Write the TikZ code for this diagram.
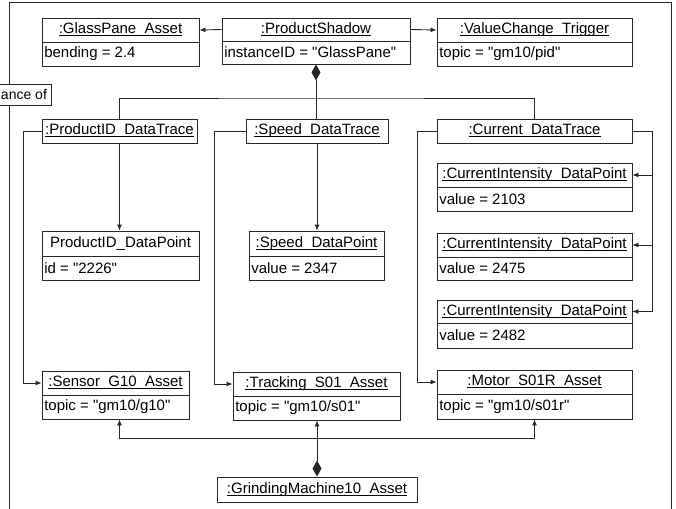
\documentclass[tikz,border=0pt]{standalone}
\usepackage{fontspec}
\setmainfont[Ligatures=TeXOff]{Liberation Sans}
\usetikzlibrary{arrows.meta}
\newcommand\myul[1]{\setbox0\hbox{#1}\rlap{\rule[-2.4pt]{\wd0}{1.1pt}}\box0}
\tikzset{
  ln/.style={line width=0.9pt, draw=black!85},
  hdr/.style={ln, draw, fill=white, inner sep=0pt, font=\fontsize{15}{18}\selectfont},
  attrbox/.style={ln, draw, fill=white, inner sep=0pt},
  attrtext/.style={anchor=west, inner sep=0pt, xshift=2.5pt, font=\fontsize{15}{18}\selectfont},
  conn/.style={ln},
  arr/.style={ln, -{Latex[length=6pt,width=5pt]}},
  comp/.style={ln, {Diamond[length=16pt,width=9pt]}-},
  comparr/.style={ln, {Diamond[length=16pt,width=9pt]}-{Latex[length=6pt,width=5pt]}},
}
% name, x1, x2, y1, ysep, y2, header, attribute
\newcommand\umlobj[8]{%
  \node[hdr, minimum width={#3-#2}, minimum height={#5-#4}] (#1) at ({(#2+#3)/2},{(#4+#5)/2}) {#7};
  \node[attrbox, minimum width={#3-#2}, minimum height={#6-#5}] (#1A) at ({(#2+#3)/2},{(#5+#6)/2}) {};
  \node[attrtext] (#1T) at (#1A.west) {#8};
}
% name, x1, x2, y1, y2, header
\newcommand\umlsingle[6]{%
  \node[hdr, minimum width={#3-#2}, minimum height={#5-#4}] (#1) at ({(#2+#3)/2},{(#4+#5)/2}) {#6};
}
\begin{document}
\begin{tikzpicture}[x=1pt,y=-1pt]
\useasboundingbox (0,0) rectangle (676,508);
% outer frame
\draw[ln] (9.5,515) -- (9.5,2.7) -- (671,2.7) -- (671,515);
\draw[ln, fill=white] (-5,84) rectangle (51,105);
\node[anchor=west, inner sep=0pt, font=\fontsize{14}{17}\selectfont] (inst) at (0.8,94.5) {ance of};

% objects
\umlobj{gp}{42}{199}{18}{42}{66}{\myul{:GlassPane\_Asset}}{bending = 2.4}
\umlobj{ps}{222}{410}{18}{41}{64}{\myul{:ProductShadow}}{instanceID = "GlassPane"}
\umlobj{vc}{437}{632}{18}{42}{66}{\myul{:ValueChange\_Trigger}}{topic = "gm10/pid"}

\umlsingle{pid}{42}{197}{119}{143}{\myul{:ProductID\_DataTrace}}
\umlsingle{spd}{246}{388}{119}{143}{\myul{:Speed\_DataTrace}}
\umlsingle{cur}{437}{632}{119}{143}{\myul{:Current\_DataTrace}}

\umlobj{pidp}{42}{199}{231}{256}{280}{ProductID\_DataPoint}{id = "2226"}
\umlobj{spdp}{249}{384}{231}{256}{280}{\myul{:Speed\_DataPoint}}{value = 2347}

\umlobj{ciA}{437}{632}{163}{187}{211}{\myul{:CurrentIntensity\_DataPoint}}{value = 2103}
\umlobj{ciB}{437}{632}{233}{257}{280}{\myul{:CurrentIntensity\_DataPoint}}{value = 2475}
\umlobj{ciC}{437}{632}{300}{323}{348}{\myul{:CurrentIntensity\_DataPoint}}{value = 2482}

\umlobj{sen}{42}{189}{371}{395}{419}{\myul{:Sensor\_G10\_Asset}}{topic = "gm10/g10"}
\umlobj{trk}{233}{400}{372}{396}{420}{\myul{:Tracking\_S01\_Asset}}{topic = "gm10/s01"}
\umlobj{mot}{437}{632}{370}{394}{419}{\myul{:Motor\_S01R\_Asset}}{topic = "gm10/s01r"}

\umlsingle{gm}{217}{417}{477}{502}{\myul{:GrindingMachine10\_Asset}}

% top associations
\draw[arr] (ps.west) -- (gp.east);
\draw[arr] (ps.east) -- (vc.west);

% composition ProductShadow -> traces
\coordinate (tbus) at (316,98);
\draw[comp] (psA.south) -- (psA.south |- spd.north);
\draw[conn] (pid.north) |- (tbus) -| (cur.north);

% traces -> data points
\draw[arr] (pid.south) -- (pid.south |- pidp.north);
\draw[arr] (spd.south) -- (spd.south |- spdp.north);
\draw[conn] (cur.east) -- ++(20,0) |- (ciC.east);
\draw[arr] (cur.east) ++(20,0) |- (ciA.east);
\draw[arr] (cur.east) ++(20,0) |- (ciB.east);
\draw[arr] (cur.east) ++(20,0) |- (ciC.east);

% traces -> assets
\draw[arr] (pid.west) -- ++(-18,0) |- (sen.west);
\draw[arr] (spd.west) -- ++(-31,0) |- (trk.west);
\draw[arr] (cur.west) -- ++(-19,0) |- (mot.west);

% composition GrindingMachine -> assets
\coordinate (gbus) at (317,438);
\draw[comparr] (gm.north) -- (gm.north |- trkA.south);
\draw[arr] (gbus) -| (pid.south |- senA.south);
\draw[arr] (gbus) -| (motA.south);
\end{tikzpicture}
\end{document}
